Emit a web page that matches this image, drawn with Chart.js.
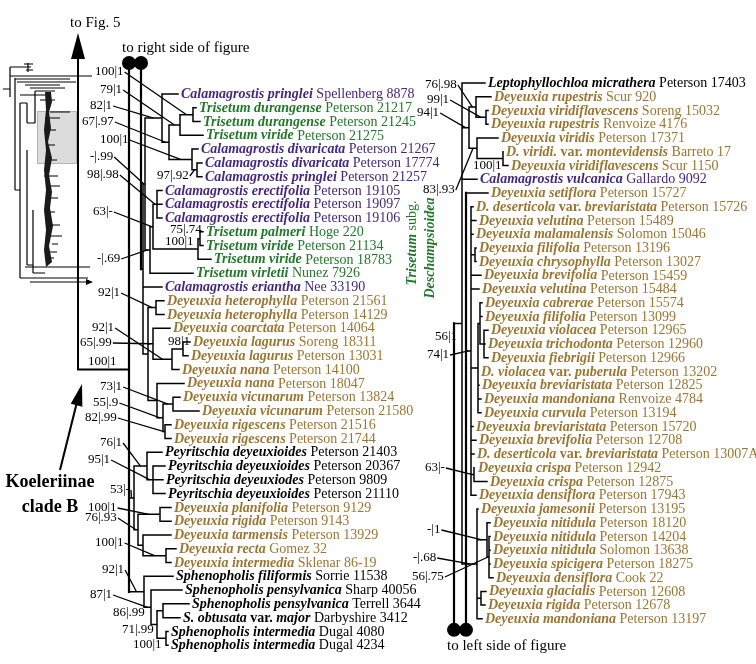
<!DOCTYPE html>
<html>
<head>
<meta charset="utf-8">
<script src="https://cdn.jsdelivr.net/npm/chart.js@4.4.1/dist/chart.umd.min.js"></script>
<style>
  html, body { margin: 0; padding: 0; background: #fff; }
  canvas { display: block; }
</style>
</head>
<body>
<canvas id="tree" width="756" height="664"></canvas>
<script>
// left half of the figure, taxa top to bottom
const leftNames = [
  'Calamagrostis pringlei', 'Trisetum durangense', 'Trisetum durangense', 'Trisetum viride',
  'Calamagrostis divaricata', 'Calamagrostis divaricata', 'Calamagrostis pringlei',
  'Calamagrostis erectifolia', 'Calamagrostis erectifolia', 'Calamagrostis erectifolia',
  'Trisetum palmeri', 'Trisetum viride', 'Trisetum viride', 'Trisetum virletii',
  'Calamagrostis eriantha', 'Deyeuxia heterophylla', 'Deyeuxia heterophylla', 'Deyeuxia coarctata',
  'Deyeuxia lagurus', 'Deyeuxia lagurus', 'Deyeuxia nana', 'Deyeuxia nana',
  'Deyeuxia vicunarum', 'Deyeuxia vicunarum', 'Deyeuxia rigescens', 'Deyeuxia rigescens',
  'Peyritschia deyeuxioides', 'Peyritschia deyeuxioides', 'Peyritschia deyeuxiodes', 'Peyritschia deyeuxioides',
  'Deyeuxia planifolia', 'Deyeuxia rigida', 'Deyeuxia tarmensis', 'Deyeuxia recta', 'Deyeuxia intermedia',
  'Sphenopholis filiformis', 'Sphenopholis pensylvanica', 'Sphenopholis pensylvanica',
  'S. obtusata var. major', 'Sphenopholis intermedia', 'Sphenopholis intermedia'
];
const leftVouchers = [
  'Spellenberg 8878', 'Peterson 21217', 'Peterson 21245', 'Peterson 21275',
  'Peterson 21267', 'Peterson 17774', 'Peterson 21257',
  'Peterson 19105', 'Peterson 19097', 'Peterson 19106',
  'Hoge 220', 'Peterson 21134', 'Peterson 18783', 'Nunez 7926',
  'Nee 33190', 'Peterson 21561', 'Peterson 14129', 'Peterson 14064',
  'Soreng 18311', 'Peterson 13031', 'Peterson 14100', 'Peterson 18047',
  'Peterson 13824', 'Peterson 21580', 'Peterson 21516', 'Peterson 21744',
  'Peterson 21403', 'Peterson 20367', 'Peterson 9809', 'Peterson 21110',
  'Peterson 9129', 'Peterson 9143', 'Peterson 13929', 'Gomez 32', 'Sklenar 86-19',
  'Sorrie 11538', 'Sharp 40056', 'Terrell 3644', 'Darbyshire 3412', 'Dugal 4080', 'Dugal 4234'
];

// right half of the figure
const rightNames = [
  'Leptophyllochloa micrathera', 'Deyeuxia rupestris', 'Deyeuxia viridiflavescens', 'Deyeuxia rupestris',
  'Deyeuxia viridis', 'D. viridi. var. montevidensis', 'Deyeuxia viridiflavescens', 'Calamagrostis vulcanica',
  'Deyeuxia setiflora', 'D. deserticola var. breviaristata', 'Deyeuxia velutina', 'Deyeuxia malamalensis',
  'Deyeuxia filifolia', 'Deyeuxia chrysophylla', 'Deyeuxia brevifolia', 'Deyeuxia velutina',
  'Deyeuxia cabrerae', 'Deyeuxia filifolia', 'Deyeuxia violacea', 'Deyeuxia trichodonta',
  'Deyeuxia fiebrigii', 'D. violacea var. puberula', 'Deyeuxia breviaristata', 'Deyeuxia mandoniana',
  'Deyeuxia curvula', 'Deyeuxia breviaristata', 'Deyeuxia brevifolia', 'D. deserticola var. breviaristata',
  'Deyeuxia crispa', 'Deyeuxia crispa', 'Deyeuxia densiflora', 'Deyeuxia jamesonii',
  'Deyeuxia nitidula', 'Deyeuxia nitidula', 'Deyeuxia nitidula', 'Deyeuxia spicigera',
  'Deyeuxia densiflora', 'Deyeuxia glacialis', 'Deyeuxia rigida', 'Deyeuxia mandoniana'
];
const rightVouchers = [
  'Peterson 17403', 'Scur 920', 'Soreng 15032', 'Renvoize 4176',
  'Peterson 17371', 'Barreto 17', 'Scur 1150', 'Gallardo 9092',
  'Peterson 15727', 'Peterson 15726', 'Peterson 15489', 'Solomon 15046',
  'Peterson 13196', 'Peterson 13027', 'Peterson 15459', 'Peterson 15484',
  'Peterson 15574', 'Peterson 13099', 'Peterson 12965', 'Peterson 12960',
  'Peterson 12966', 'Peterson 13202', 'Peterson 12825', 'Renvoize 4784',
  'Peterson 13194', 'Peterson 15720', 'Peterson 12708', 'Peterson 13007A',
  'Peterson 12942', 'Peterson 12875', 'Peterson 17943', 'Peterson 13195',
  'Peterson 18120', 'Peterson 14204', 'Solomon 13638', 'Peterson 18275',
  'Cook 22', 'Peterson 12608', 'Peterson 12678', 'Peterson 13197'
];

// trees: leaves are row numbers, "@row" = branch continued on the other half
const leftTrees = [
  '(@-2.25:0,((26:15,(27:12,28:10,29:12)PEY2:6)PEY:13,((30:11,31:11)PLR:22,(32:28,(33:10,34:5)RI:23)TRI:5)DP:4)PD:5,(35:29,(36:31,((37:26,38:17)S4:6,(39:2,40:2)S5:9)S3:6)S2:7)S1:15)ROOT',
  '(@-2.25:0,((((0:16,(((1:3,2:7)MDur:13,3:23)MB:11,(4:6,(5:5,6:5)MP:5)MD:23)MY:7)MX:17,(((7:5,8:5,9:5)ERE:4,((10:3,11:3)PP:2,12:13)P:45)N63:3,13:43)N69:5)A2:2,14:19,((15:8,16:8)DH:8,(17:17,((18:7,19:5)DLg:11,20:7)DL:19)DC:5,(21:27,((22:7,23:26)VIC:10,(24:6,25:6)RIG:2)DV:6)DN:9)A3:5)A1:2)L2'
];
const leftRootDepth = [0, 12];
const leftStemRow = 20;

const rightTrees = [
  '((0:23,((1:15,(2:2,3:2)R3:10)R2:7,(4:21,(5:0,6:5)R5:26)R4:8)R1:7,7:15,(31:1,(32:3,(33:1,34:1,35:1,36:4)RN2:2)RN:10,(37:5,38:4)RGL:4,39:5)RJ:15)RR:8,@39.8:0)RA',
  '(8:22,(9:2,10:5,11:2,(12:1,13:1)RF:4,14:10,15:8,((16:2,17:2,(18:4,19:1,20:4)RV:4)RH:2,21:0,22:1,23:3,24:3)RG:7,25:2,26:5,27:3,(28:1,29:13)CR:3,30:5)RC:5,@39.8:0)RB'
];
const rightRootDepth = [0, 12];

// support values (bootstrap | posterior)
const leftSupNode = ['MDur', 'MB', 'MX', 'MY', 'MD', 'A2', 'ERE', 'MP', 'N63', 'PP', 'P', 'N69',
  'DH', 'DL', 'DC', 'DLg', '', 'VIC', 'DV', 'RIG', 'PEY', 'PEY2', 'PD', 'PLR', 'DP', 'RI',
  'S1', 'S2', 'S3', 'S4', 'S5'];
const leftSupText = ['100|1', '79|1', '82|1', '67|.97', '100|1', '-|.99', '98|.98', '97|.92', '63|-', '75|.74', '100|1', '-|.69',
  '92|1', '92|1', '65|.99', '98|1', '100|1', '73|1', '55|.9', '82|.99', '76|1', '95|1', '53|-', '100|1', '76|.93', '100|1',
  '92|1', '87|1', '86|.99', '71|.99', '100|1'];
const rightSupNode = ['R2', 'R3', 'R1', 'R5', 'R4', 'RA', 'RC', 'CR', 'RN', 'RJ', 'RN2'];
const rightSupText = ['76|.98', '99|1', '94|1', '100|1', '83|.93', '56|1', '74|1', '63|-', '-|1', '-|.68', '56|.75'];

// ---- layout ----
const W = 756, H = 664;
const L_ROOT_PX = 129, L_TOP_PX = 94, L_ROW_PX = 13.78;
const R_ROOT_PX = 454, R_TOP_PX = 83, R_ROW_PX = 13.74;
const SERIF = "'Liberation Serif', 'Times New Roman', serif";
const FS = 14, SUP_FS = 13;
const COLORS = { Calamagrostis: '#44287f', Trisetum: '#22782a', Deyeuxia: '#9c7631', 'D.': '#9c7631' };

// label position [x, y, leader line?]
const leftSupPos = [[95, 72, 1], [100, 90, 1], [90, 106, 1], [82, 122, 1], [100, 140, 1], [90, 157, 1], [87, 175, 1],
  [157, 176, 1], [93, 212, 1], [170, 230, 0], [165, 242, 0], [97, 259, 1], [98, 293, 1], [92, 328, 1], [80, 343, 1],
  [168, 342, 0], [88, 362, 0], [100, 387, 1], [93, 403, 1], [85, 418, 1], [100, 443, 1], [88, 460, 1], [110, 490, 1],
  [88, 508, 1], [85, 518, 1], [95, 543, 1], [102, 570, 1], [90, 595, 1], [113, 613, 0], [122, 630, 0], [133, 645, 0]];
const rightSupPos = [[425, 85, 1], [427, 100, 1], [417, 113, 1], [473, 166, 0], [423, 190, 1], [435, 337, 0],
  [427, 355, 1], [425, 468, 1], [427, 530, 1], [413, 558, 1], [412, 577, 1]];

function parseNewick(s) {
  let i = 0;
  function read() {
    const n = { kids: [], len: 0 };
    if (s[i] === '(') {
      i++;
      n.kids.push(read());
      while (s[i] === ',') { i++; n.kids.push(read()); }
      i++;
    }
    let name = '';
    while (i < s.length && ',():'.indexOf(s[i]) < 0) name += s[i++];
    n.name = name;
    if (s[i] === ':') {
      i++;
      let b = '';
      while (i < s.length && ',()'.indexOf(s[i]) < 0) b += s[i++];
      n.len = parseFloat(b);
    }
    return n;
  }
  return read();
}

function place(n, x, parent, out) {
  n.x = x;
  n.parent = parent;
  n.kids.forEach(k => place(k, x + k.len, n, out));
  if (n.kids.length) n.y = (n.kids[0].y + n.kids[n.kids.length - 1].y) / 2;
  else if (n.name[0] === '@') { n.y = parseFloat(n.name.slice(1)); n.link = true; }
  else { n.y = +n.name; n.leaf = true; }
  out.push(n);
}

function buildSide(trees, depths) {
  const nodes = [];
  trees.forEach((s, k) => place(parseNewick(s), depths[k], null, nodes));
  return nodes;
}

function segments(nodes, roots) {
  const pts = [];
  nodes.forEach(n => {
    if (!n.kids.length) return;
    if (!n.parent === roots) {
      pts.push({ x: n.x, y: n.kids[0].y }, { x: n.x, y: n.kids[n.kids.length - 1].y }, { x: null, y: null });
    }
    if (!roots) {
      n.kids.forEach(k => {
        if (k.len > 0) pts.push({ x: n.x, y: k.y }, { x: k.x, y: k.y }, { x: null, y: null });
      });
    }
  });
  return pts;
}

const leftNodes = buildSide(leftTrees, leftRootDepth);
const rightNodes = buildSide(rightTrees, rightRootDepth);

function lineSet(data, xa, ya, width) {
  return {
    data, xAxisID: xa, yAxisID: ya, showLine: true, spanGaps: false,
    borderColor: '#000', borderWidth: width, borderCapStyle: 'square',
    pointRadius: 0, pointHoverRadius: 0
  };
}
function circleSet(nodes, xa, ya) {
  return {
    data: nodes.filter(n => n.link).map(n => ({ x: n.x, y: n.y })),
    xAxisID: xa, yAxisID: ya, showLine: false,
    pointRadius: 7, pointBackgroundColor: '#000', pointBorderWidth: 0, pointHoverRadius: 7
  };
}

function drawLeaves(ctx, nodes, names, vouchers, sx, sy) {
  ctx.textBaseline = 'middle';
  ctx.textAlign = 'left';
  nodes.filter(n => n.leaf).forEach(n => {
    const name = names[n.y];
    const color = COLORS[name.split(' ')[0]] || '#000';
    let cx = sx.getPixelForValue(n.x) + 3;
    const y = sy.getPixelForValue(n.y) + 0.5;
    ctx.fillStyle = color;
    name.split(' ').forEach(w => {
      ctx.font = (w === 'var.' ? 'bold ' : 'italic bold ') + FS + 'px ' + SERIF;
      ctx.fillText(w, cx, y);
      cx += ctx.measureText(w + ' ').width;
    });
    ctx.font = FS + 'px ' + SERIF;
    ctx.fillText(vouchers[n.y], cx, y);
  });
}

function drawSupports(ctx, nodes, names, texts, pos, sx, sy) {
  ctx.font = SUP_FS + 'px ' + SERIF;
  ctx.fillStyle = '#000';
  ctx.strokeStyle = '#000';
  ctx.lineWidth = 1.3;
  ctx.textBaseline = 'middle';
  ctx.textAlign = 'left';
  names.forEach((nm, k) => {
    const [lx, ly, lead] = pos[k];
    ctx.fillText(texts[k], lx, ly);
    if (!lead) return;
    const n = nodes.find(d => d.name === nm);
    const tx = sx.getPixelForValue(n.parent ? (n.x + n.parent.x) / 2 : n.x);
    const ty = sy.getPixelForValue(n.y);
    const w = ctx.measureText(texts[k]).width;
    ctx.beginPath();
    ctx.moveTo(lx + w + 1, ly);
    ctx.lineTo(tx, ty);
    ctx.stroke();
  });
}

function arrowHead(ctx, tx, ty, fx, fy, len, half) {
  const a = Math.atan2(ty - fy, tx - fx);
  const bx = tx - len * Math.cos(a), by = ty - len * Math.sin(a);
  ctx.beginPath();
  ctx.moveTo(tx, ty);
  ctx.lineTo(bx + half * Math.sin(a), by - half * Math.cos(a));
  ctx.lineTo(bx - half * Math.sin(a), by + half * Math.cos(a));
  ctx.closePath();
  ctx.fill();
}

// small overview tree in the top left corner
function drawThumb(ctx) {
  ctx.save();
  ctx.fillStyle = '#dcdcdc';
  ctx.strokeStyle = '#b5b5b5';
  ctx.lineWidth = 1;
  ctx.fillRect(37, 111, 39, 52);
  ctx.strokeRect(37.5, 111.5, 39, 52);
  const segs = [[3, 89, 10, 89], [10, 67, 10, 97], [10, 67, 24, 67], [24, 64, 33, 64], [24, 67, 31, 67], [26, 70, 33, 70],
    [28, 63, 28, 72], [10, 76, 92, 76], [15, 78, 15, 190], [15, 79, 22, 79], [22, 79, 70, 79], [17, 82, 76, 82],
    [25, 85, 60, 85], [30, 88, 65, 88], [35, 91, 55, 91], [20, 95, 50, 95], [20, 103, 20, 278], [20, 103, 27, 103],
    [27, 103, 27, 123], [35, 91, 35, 123], [27, 123, 35, 123], [40, 100, 55, 100], [50, 112, 70, 112], [45, 118, 60, 118],
    [44, 176, 58, 176], [48, 186, 60, 186], [46, 236, 62, 236], [52, 244, 58, 244], [15, 190, 20, 190], [33, 210, 33, 273],
    [27, 150, 27, 265], [27, 265, 33, 265], [25, 267, 90, 267], [20, 278, 88, 278], [30, 282, 86, 282], [33, 273, 45, 273],
    [48, 130, 56, 130], [47, 145, 55, 145], [46, 160, 57, 160], [49, 198, 58, 198], [47, 212, 55, 212], [50, 225, 60, 225],
    [48, 252, 57, 252], [45, 258, 54, 258]];
  ctx.strokeStyle = '#000';
  ctx.lineWidth = 1.2;
  ctx.beginPath();
  segs.forEach(s => { ctx.moveTo(s[0], s[1]); ctx.lineTo(s[2], s[3]); });
  ctx.stroke();
  const spine = [[45, 92], [51, 92], [52, 102], [49, 112], [51, 128], [48, 142], [52, 158], [49, 175], [52, 192],
    [50, 208], [53, 226], [49, 246], [52, 262], [46, 267], [44, 250], [46, 230], [44, 210], [46, 190], [44, 170],
    [46, 150], [44, 130], [46, 110]];
  ctx.fillStyle = '#1a1a1a';
  ctx.beginPath();
  spine.forEach((p, k) => k ? ctx.lineTo(p[0], p[1]) : ctx.moveTo(p[0], p[1]));
  ctx.closePath();
  ctx.fill();
  ctx.fillStyle = '#000';
  arrowHead(ctx, 93, 282, 80, 282, 7, 3);
  ctx.restore();
}

const treePlugin = {
  id: 'treeText',
  afterDatasetsDraw(chart) {
    const ctx = chart.ctx;
    const s = chart.scales;
    ctx.save();
    drawThumb(ctx);

    // Koeleriinae stem and arrow up to Fig. 5
    const stemY = s.yL.getPixelForValue(leftStemRow);
    const rootX = s.xL.getPixelForValue(leftRootDepth[0]);
    ctx.strokeStyle = '#000';
    ctx.lineWidth = 2;
    ctx.beginPath();
    ctx.moveTo(rootX, stemY);
    ctx.lineTo(78, stemY);
    ctx.lineTo(78, 50);
    ctx.stroke();
    ctx.fillStyle = '#000';
    arrowHead(ctx, 78, 33, 78, 200, 26, 7);

    ctx.lineWidth = 2;
    ctx.beginPath();
    ctx.moveTo(60, 470);
    ctx.lineTo(78, 398);
    ctx.stroke();
    arrowHead(ctx, 82, 384, 60, 470, 22, 6);

    ctx.textBaseline = 'middle';
    ctx.textAlign = 'left';
    ctx.font = '15px ' + SERIF;
    ctx.fillText('to Fig. 5', 70, 23);
    ctx.fillText('to right side of figure', 122, 48);
    ctx.fillText('to left side of figure', 447, 646);
    ctx.font = 'bold 18px ' + SERIF;
    ctx.textAlign = 'center';
    ctx.fillText('Koeleriinae', 50, 482);
    ctx.fillText('clade B', 50, 507);

    // vertical group label
    ctx.fillStyle = COLORS.Trisetum;
    ctx.save();
    ctx.translate(412, 243);
    ctx.rotate(-Math.PI / 2);
    ctx.font = 'italic bold 14px ' + SERIF;
    const w1 = ctx.measureText('Trisetum ').width;
    ctx.font = '14px ' + SERIF;
    const w2 = ctx.measureText('subg.').width;
    ctx.textAlign = 'left';
    ctx.font = 'italic bold 14px ' + SERIF;
    ctx.fillText('Trisetum', -(w1 + w2) / 2, 0);
    ctx.font = '14px ' + SERIF;
    ctx.fillText('subg.', -(w1 + w2) / 2 + w1, 0);
    ctx.restore();
    ctx.save();
    ctx.translate(430, 248);
    ctx.rotate(-Math.PI / 2);
    ctx.textAlign = 'center';
    ctx.font = 'italic bold 14px ' + SERIF;
    ctx.fillText('Deschampsioidea', 0, 0);
    ctx.restore();

    drawLeaves(ctx, leftNodes, leftNames, leftVouchers, s.xL, s.yL);
    drawLeaves(ctx, rightNodes, rightNames, rightVouchers, s.xR, s.yR);
    drawSupports(ctx, leftNodes, leftSupNode, leftSupText, leftSupPos, s.xL, s.yL);
    drawSupports(ctx, rightNodes, rightSupNode, rightSupText, rightSupPos, s.xR, s.yR);
    ctx.restore();
  }
};

new Chart(document.getElementById('tree'), {
  type: 'scatter',
  data: {
    datasets: [
      lineSet(segments(leftNodes, false), 'xL', 'yL', 1.5),
      lineSet(segments(leftNodes, true), 'xL', 'yL', 2.2),
      lineSet(segments(rightNodes, false), 'xR', 'yR', 1.5),
      lineSet(segments(rightNodes, true), 'xR', 'yR', 2.2),
      circleSet(leftNodes, 'xL', 'yL'),
      circleSet(rightNodes, 'xR', 'yR')
    ]
  },
  options: {
    responsive: false,
    animation: false,
    layout: { padding: 0, autoPadding: false },
    plugins: { legend: { display: false }, tooltip: { enabled: false } },
    scales: {
      x: { display: false },
      y: { display: false },
      xL: { axis: 'x', type: 'linear', display: false, min: -L_ROOT_PX, max: W - L_ROOT_PX },
      yL: { axis: 'y', type: 'linear', display: false, reverse: true,
            min: -L_TOP_PX / L_ROW_PX, max: (H - L_TOP_PX) / L_ROW_PX },
      xR: { axis: 'x', type: 'linear', display: false, min: -R_ROOT_PX, max: W - R_ROOT_PX },
      yR: { axis: 'y', type: 'linear', display: false, reverse: true,
            min: -R_TOP_PX / R_ROW_PX, max: (H - R_TOP_PX) / R_ROW_PX }
    }
  },
  plugins: [treePlugin]
});
</script>
</body>
</html>
